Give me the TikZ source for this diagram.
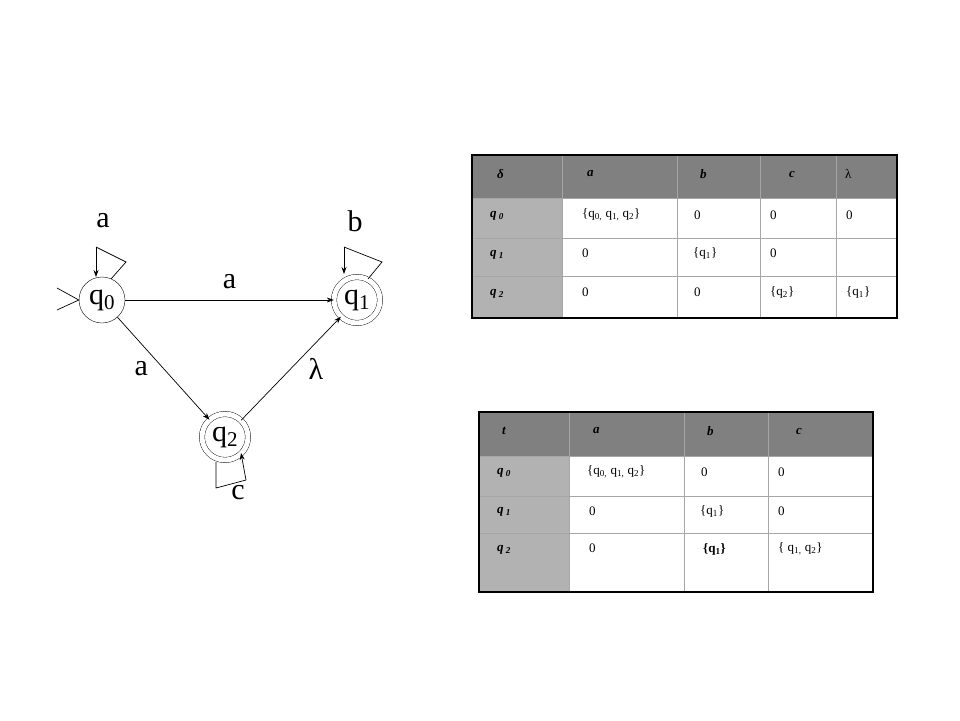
\documentclass[tikz,border=0pt]{standalone}
\usepackage{fontspec}
\setmainfont{Liberation Serif}
\usetikzlibrary{arrows.meta}
\begin{document}
\begin{tikzpicture}[x=1pt,y=-1pt,
  st/.style={circle,draw,minimum size=46pt,inner sep=0pt,font=\fontsize{30}{30}\selectfont},
  acc/.style={circle,draw,double,double distance=5pt,minimum size=46pt,inner sep=0pt,font=\fontsize{30}{30}\selectfont},
  lab/.style={font=\fontsize{30}{30}\selectfont},
  ar/.style={-{Stealth[length=7pt,width=5pt]},line width=0.7pt},
  cell/.style={anchor=west,font=\fontsize{13}{13}\selectfont,inner sep=0pt},
  hd/.style={anchor=west,font=\fontsize{13}{13}\selectfont\bfseries\itshape,inner sep=0pt}]
\useasboundingbox (0,0) rectangle (960,720);
% automaton
\node[st] (q0) at (102,300) {q\textsubscript{0}};
\node[acc] (q1) at (357,300) {q\textsubscript{1}};
\node[acc] (q2) at (225,437) {q\textsubscript{2}};
\coordinate (i1) at (57,288); \coordinate (i2) at (57,310);
\draw[line width=0.7pt] (i1) -- (q0.west) -- (i2);
\draw[ar] (q0) -- node[lab,above=8pt]{a} (q1);
\draw[ar] (q0) -- node[lab,left=12pt]{a} (q2);
\draw[ar] (q2) -- node[lab,right=14pt]{λ} (q1);
\coordinate (l0a) at (96,247); \coordinate (l0b) at (126,262); \coordinate (l0c) at (111,279);
\draw[line width=0.7pt] (l0c) -- (l0b) -- (l0a);
\draw[ar] (l0a) -- (96,277);
\coordinate (l1a) at (344,247); \coordinate (l1b) at (382,262); \coordinate (l1c) at (368,279);
\draw[line width=0.7pt] (l1c) -- (l1b) -- (l1a);
\draw[ar] (l1a) -- (344,274);
\coordinate (l2a) at (216,462); \coordinate (l2b) at (216,488); \coordinate (l2c) at (246,480);
\draw[line width=0.7pt] (l2a) -- (l2b) -- (l2c);
\draw[ar] (l2c) -- (241,453);
\node[lab] (la) at (103,221) {a};
\node[lab] (lb) at (355,221) {b};
\node[lab] (lc) at (238,493) {c};
% table 1
\fill[gray!100!white,fill=black!50] (472,155) rectangle (897,198);
\fill[fill=black!30] (472,198) rectangle (562,318);
\draw[gray!70,line width=1pt] (562,155)--(562,318) (677,155)--(677,318) (760,155)--(760,318) (836,155)--(836,318)
  (472,198)--(897,198) (472,238)--(897,238) (472,276)--(897,276);
\draw[line width=2.5pt] (472,155) rectangle (897,318);
\node[hd] (h1) at (497,174) {δ};
\node[hd] (h2) at (587,174) {a};
\node[hd] (h3) at (700,174) {b};
\node[hd] (h4) at (789,174) {c};
\node[cell] (h5) at (845,174) {λ};
\node[hd] (r1) at (490,216) {q\,\textsubscript{0}};
\node[hd] (r2) at (490,255) {q\,\textsubscript{1}};
\node[hd] (r3) at (490,294) {q\,\textsubscript{2}};
\node[cell] at (582,215) {\{q\textsubscript{0,} q\textsubscript{1,} q\textsubscript{2}\}};
\node[cell] at (694,215) {0};
\node[cell] at (770,215) {0};
\node[cell] at (846,215) {0};
\node[cell] at (582,253) {0};
\node[cell] at (693,253) {\{q\textsubscript{1}\}};
\node[cell] at (770,253) {0};
\node[cell] at (582,292) {0};
\node[cell] at (694,292) {0};
\node[cell] at (770,292) {\{q\textsubscript{2}\}};
\node[cell] at (846,292) {\{q\textsubscript{1}\}};
% table 2
\fill[fill=black!50] (479,412) rectangle (873,456);
\fill[fill=black!30] (479,456) rectangle (569,592);
\draw[gray!70,line width=1pt] (569,412)--(569,592) (684,412)--(684,592) (768,412)--(768,592)
  (479,456)--(873,456) (479,496)--(873,496) (479,533)--(873,533);
\draw[line width=2.5pt] (479,412) rectangle (873,592);
\node[hd] (t1) at (502,431) {t};
\node[hd] (t2) at (593,431) {a};
\node[hd] (t3) at (707,431) {b};
\node[hd] (t4) at (796,431) {c};
\node[hd] (s1) at (497,473) {q\,\textsubscript{0}};
\node[hd] (s2) at (497,512) {q\,\textsubscript{1}};
\node[hd] (s3) at (497,550) {q\,\textsubscript{2}};
\node[cell] at (587,472) {\{q\textsubscript{0,} q\textsubscript{1,} q\textsubscript{2}\}};
\node[cell] at (701,472) {0};
\node[cell] at (778,472) {0};
\node[cell] at (589,511) {0};
\node[cell] at (700,511) {\{q\textsubscript{1}\}};
\node[cell] at (778,511) {0};
\node[cell] at (589,548) {0};
\node[cell,font=\fontsize{13}{13}\selectfont\bfseries] at (703,549) {\{q\textsubscript{1}\}};
\node[cell] at (778,549) {\{ q\textsubscript{1,} q\textsubscript{2}\}};
\end{tikzpicture}
\end{document}
